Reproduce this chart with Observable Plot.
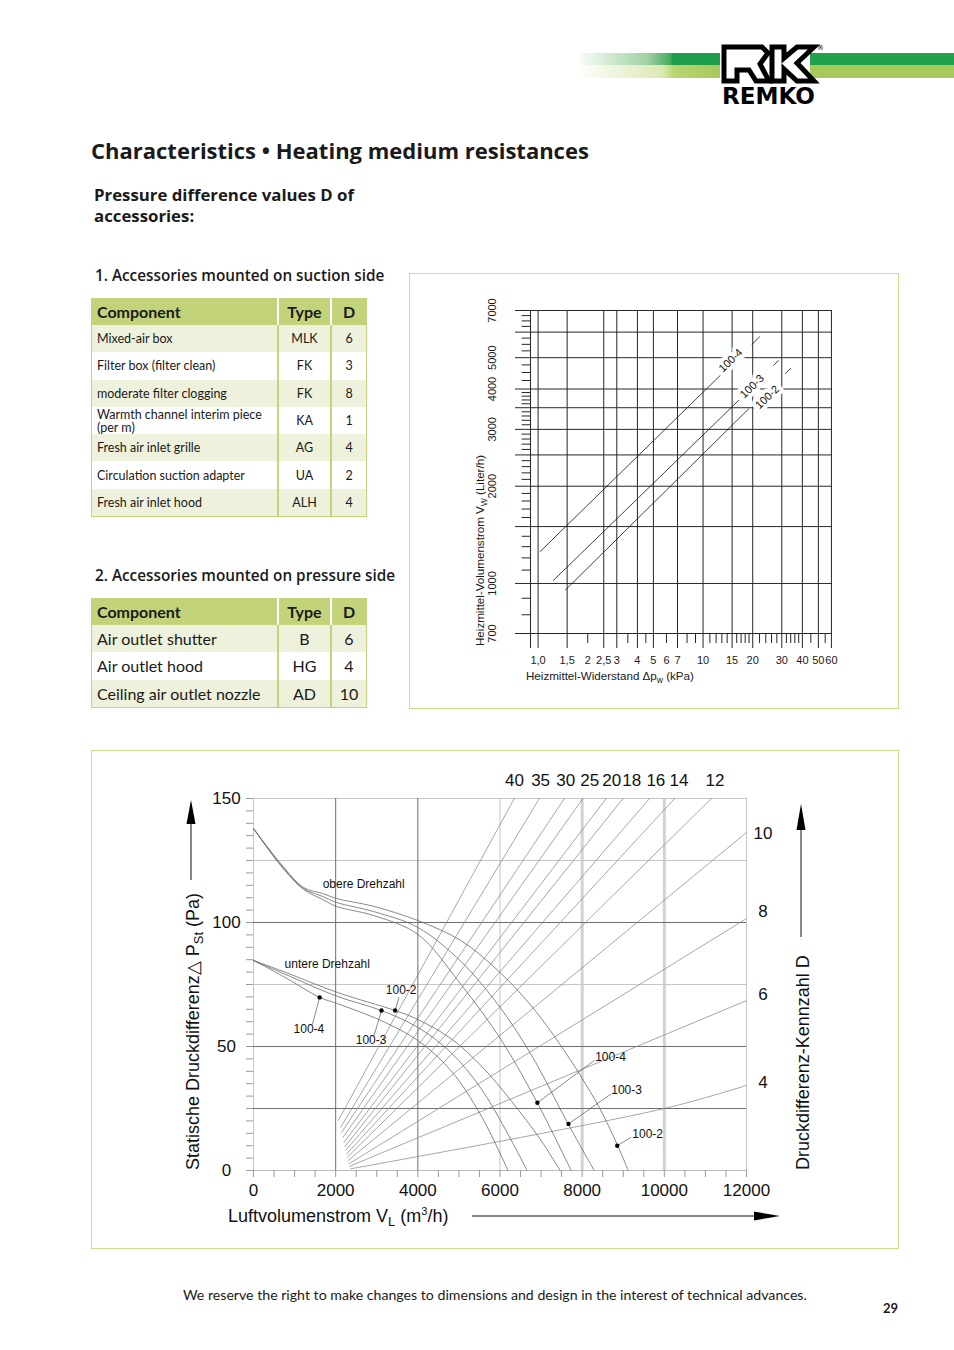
<!DOCTYPE html>
<html><head><meta charset="utf-8">
<script src="https://cdn.jsdelivr.net/npm/d3@7"></script>
<script src="https://cdn.jsdelivr.net/npm/@observablehq/plot@0.6"></script>
<style>
body{margin:0;background:#fff;}
#page{position:relative;width:954px;height:1350px;font-family:Lato,"Open Sans",sans-serif;color:#1a1a1a;overflow:hidden;background:#fff}
.a{position:absolute;white-space:nowrap;line-height:1}
.os{font-family:"Open Sans",Lato,sans-serif}
.box{position:absolute;border:1px solid #cfdc8e;box-sizing:border-box}
.tbl{position:absolute;box-sizing:border-box;border-left:1px solid #c3d37a;border-right:1px solid #c3d37a;border-bottom:1px solid #c3d37a}
.row{display:grid;box-sizing:border-box}
.row>div{display:flex;align-items:center;box-sizing:border-box}
.hd{background:#c3d37a;font-weight:700;font-size:16px;height:27px}
.hd>div+div{border-left:2px solid #fff;justify-content:center}
.bd>div+div{border-left:2px solid #c3d37a;justify-content:center}
.bd.alt{background:#eef1dc}
.row>div:first-child{padding-left:5px}
.chart{position:absolute}
</style></head>
<body><div id="page">
<svg class="a" style="left:0;top:0" width="954" height="120">
 <defs>
  <linearGradient id="gU" x1="0" x2="1"><stop offset="0" stop-color="#fff"/><stop offset="0.5" stop-color="#9fd1a2"/><stop offset="0.66" stop-color="#45ab5c"/><stop offset="0.67" stop-color="#1f9f4b"/><stop offset="1" stop-color="#1f9f4b"/></linearGradient>
  <linearGradient id="gL" x1="0" x2="1"><stop offset="0" stop-color="#fff"/><stop offset="0.6" stop-color="#dce9b5"/><stop offset="0.68" stop-color="#b9d572"/><stop offset="1" stop-color="#a8c95c"/></linearGradient>
 </defs>
 <rect x="575" y="53" width="145" height="12" fill="url(#gU)"/>
 <rect x="575" y="65" width="145" height="13" fill="url(#gL)"/>
 <rect x="810" y="53" width="144" height="12" fill="#22a04b"/>
 <rect x="810" y="65" width="144" height="13" fill="#a7c95b"/>
 <path d="M724,47 H762 L768,53 L760,64 L769,81 H756 L749,70 H737 V81 H724 Z" fill="#fff" stroke="#000" stroke-width="5" stroke-linejoin="miter"/>
 <path d="M772,47 H784 V58 L797,47 H814 L797,63 L814,81 H797 L784,69 V81 H772 Z" fill="#fff" stroke="#000" stroke-width="5" stroke-linejoin="miter"/>
 <text x="817" y="50" font-size="7" font-family="DejaVu Sans">®</text>
 <text x="722" y="104" font-size="23" font-weight="900" font-family="'DejaVu Sans'" textLength="93" lengthAdjust="spacingAndGlyphs">REMKO</text>
</svg>

<div class="a os" style="left:91px;top:139px;font-size:22px;font-weight:700">Characteristics • Heating medium resistances</div>
<div class="a os" style="left:94px;top:184px;font-size:16.8px;font-weight:700;line-height:21px">Pressure difference values D of<br>accessories:</div>
<div class="a os" style="left:95px;top:268px;font-size:15.3px;font-weight:600">1. Accessories mounted on suction side</div>
<div class="a os" style="left:95px;top:568px;font-size:15.3px;font-weight:600">2. Accessories mounted on pressure side</div>
<div id="t1" class="tbl" style="left:91px;top:298px;width:276px"></div>
<div id="t2" class="tbl" style="left:91px;top:598px;width:276px"></div>

<div class="box" style="left:409px;top:273px;width:490px;height:436px"></div>
<div class="box" style="left:91px;top:750px;width:808px;height:499px"></div>
<div id="c1" class="chart" style="left:409px;top:273px"></div>
<div id="c2" class="chart" style="left:91px;top:750px"></div>

<div class="a" style="left:183px;top:1288px;font-size:14.15px">We reserve the right to make changes to dimensions and design in the interest of technical advances.</div>
<div class="a" style="left:883px;top:1302px;font-size:13px;font-weight:700">29</div>
</div>
<script>
// ---------- tables ----------
const suctionComponents = ["Mixed-air box","Filter box (filter clean)","moderate filter clogging","Warmth channel interim piece\n(per m)","Fresh air inlet grille","Circulation suction adapter","Fresh air inlet hood"];
const suctionTypes = ["MLK","FK","FK","KA","AG","UA","ALH"];
const suctionD = [6,3,8,1,4,2,4];
const pressureComponents = ["Air outlet shutter","Air outlet hood","Ceiling air outlet nozzle"];
const pressureTypes = ["B","HG","AD"];
const pressureD = [6,4,10];
const tableHeader = ["Component","Type","D"];

function buildTable(id, comps, types, ds, fontSize){
  const el = document.getElementById(id);
  const cols = "185px 53px 36px";
  const hd = document.createElement("div"); hd.className="row hd"; hd.style.gridTemplateColumns=cols;
  tableHeader.forEach(h=>{const c=document.createElement("div");c.textContent=h;hd.appendChild(c);});
  el.appendChild(hd);
  comps.forEach((comp,i)=>{
    const r=document.createElement("div"); r.className="row bd"+(i%2===0?" alt":""); r.style.gridTemplateColumns=cols;
    r.style.height="27.3px"; r.style.fontSize=fontSize+"px";
    [comp,types[i],String(ds[i])].forEach((v,j)=>{const c=document.createElement("div");c.textContent=v;
      if(j===0){c.style.whiteSpace="pre-line";c.style.lineHeight="13px";}
      r.appendChild(c);});
    el.appendChild(r);
  });
}
buildTable("t1",suctionComponents,suctionTypes,suctionD,12.5);
buildTable("t2",pressureComponents,pressureTypes,pressureD,16);

// ---------- chart 1: water resistance (log-log) ----------
const dpGrid = [0.9,1,1.5,2.5,3,4,5,7,10,15,20,30,40,50,60];
const dpMinor = [2,3.5,4.5,6,8,9,11,12,13,14,16,17,18,19,22,24,26,28,32,34,36,38,45,55];
const dpLabelValues = [1,1.5,2,2.5,3,4,5,6,7,10,15,20,30,40,50,60];
const dpLabelTexts = ["1,0","1,5","2","2,5","3","4","5","6","7","10","15","20","30","40","50","60"];
const vwGrid = [700,1000,1500,2000,2500,3000,3500,4000,5000,6000,7000];
const vwMinor = [800,900,1100,1200,1300,1400,1600,1700,1800,1900,2100,2200,2300,2400,2600,2700,2800,2900,3100,3200,3300,3400,3600,3700,3800,3900,4250,4500,4750,5250,5500,5750,6250,6500,6750];
const vwLabelValues = [700,1000,2000,3000,4000,5000,7000];
const coilNames = ["100-4","100-3","100-2"];
const coilStartDp = [1.03,1.235,1.466];
const coilStartVw = [1256,1021,955];
const coilEndDp = [12.7,16.45,18.9];
const coilEndVw = [4404,3690,3472];
const coilDashDp = [[19.8,22.0],[26.8,28.6],[31.6,33.9]];
const coilDashVw = [[5500,5800],[4740,4890],[4470,4630]];
const coilLabelDp = [14.7,19.8,24.5];
const coilLabelVw = [4900,4077,3773];

const coilRows = coilNames.flatMap((n,i)=>[{name:n,dp:coilStartDp[i],vw:coilStartVw[i]},{name:n,dp:coilEndDp[i],vw:coilEndVw[i]}]);
const dashRows = coilNames.flatMap((n,i)=>coilDashDp[i].map((d,j)=>({name:n,dp:d,vw:coilDashVw[i][j]})));
const coilLabelRows = coilNames.map((n,i)=>({name:n,dp:coilLabelDp[i],vw:coilLabelVw[i]}));
const ink = "#262626";
const svg1 = Plot.plot({
  width:489,height:435,marginLeft:106,marginRight:66,marginTop:37,marginBottom:75,
  x:{type:"log",domain:[0.7296,60.9],axis:null},
  y:{type:"log",domain:[700,7000],axis:null},
  style:{fontFamily:"'Liberation Sans',Arial,sans-serif",fontSize:"11px",color:"#1a1a1a",background:"transparent",overflow:"visible"},
  marks:[
    Plot.ruleY(vwGrid,{stroke:ink,strokeWidth:1}),
    Plot.ruleX(dpGrid,{stroke:ink,strokeWidth:1}),
    Plot.axisX(dpGrid,{tickSize:15,tickFormat:()=>"",stroke:ink,label:null}),
    Plot.axisX(dpMinor,{tickSize:10,tickFormat:()=>"",stroke:ink,label:null}),
    Plot.ruleY(vwMinor,{x1:0.8,x2:0.9,stroke:ink,strokeWidth:1}),
    Plot.line(coilRows,{x:"dp",y:"vw",z:"name",stroke:"#111",strokeWidth:0.8}),
    Plot.line(dashRows,{x:"dp",y:"vw",z:"name",stroke:"#111",strokeWidth:0.8}),
    Plot.text(coilLabelRows,{x:"dp",y:"vw",text:"name",rotate:-44,fontSize:11,stroke:"#fff",strokeWidth:8,fill:"#111"}),
    Plot.text(dpLabelValues,{x:d=>d,text:(d,i)=>dpLabelTexts[i],frameAnchor:"bottom",dy:27,textAnchor:"middle",lineAnchor:"middle",fontSize:11}),
    Plot.text(vwLabelValues,{y:d=>d,text:d=>String(d),frameAnchor:"left",dx:-23,rotate:-90,textAnchor:"middle",lineAnchor:"middle",fontSize:11})
  ]
});
document.getElementById("c1").appendChild(svg1);
{
  const s=d3.select(svg1);
  const t=s.append("text").attr("transform","translate(75,373) rotate(-90)").attr("text-anchor","start").attr("font-size",11.6).attr("fill","#1a1a1a");
  t.append("tspan").text("Heizmittel-Volumenstrom V");
  t.append("tspan").attr("font-size",8.5).attr("dy",3).text("W");
  t.append("tspan").attr("dy",-3).text(" (Liter/h)");
  const u=s.append("text").attr("x",117).attr("y",407).attr("text-anchor","start").attr("font-size",11.6).attr("fill","#1a1a1a");
  u.append("tspan").text("Heizmittel-Widerstand Δp");
  u.append("tspan").attr("font-size",8.5).attr("dy",3).text("w");
  u.append("tspan").attr("dy",-3).text(" (kPa)");
}

// ---------- chart 2: fan curves / pressure difference ----------
const flowLabels = [0,2000,4000,6000,8000,10000,12000];
const pstLabels = [0,50,100,150];
const flowMinor = d3.range(0,12001,500);
const pstMinor = d3.range(0,151,5);
const gridFlowDark = [2000,4000], gridFlowLight = [6000,12000], gridFlowWide = [8000,10000];
const gridPstDark = [25,50,100], gridPstLight = [75,125,150];

const kennD = [40,35,30,25,20,18,16,14,12,10,8,6,4];
const kennStartV = [2066,2122,2146,2178,2202,2227,2244,2268,2285,2300,2324,2341,2366];
const kennStartP = [20.2,17.5,15.4,13.4,11.4,9.7,8.1,6.7,5.4,4.0,2.7,1.7,0.7];
const kennEndV = [6349,6958,7568,8017,8585,8993,9641,10251,11146,12000,12000,12000,12000];
const kennEndP = [150,150,150,150,150,150,150,150,150,136.3,101.6,68.5,34.3];
// read mid-points (only where clearly legible): D=4 passes 10000 m3/h at 25 Pa
const kennMid = {4:[10000,25]};
const kennTopLabelV = [6354,6988,7598,8183,8720,9207,9793,10354,11232];
const kennRightLabelP = [135.9,104.4,71,35.5];

const fanCurves = {
  "obere 100-2": {v:[0,659,1220,1683,2017,2927,4000,5049,5951,6756,7561,8390,8871,9122], p:[137.9,123.8,114.1,111.7,109.7,106.5,100.8,92.7,80.6,66.5,48.4,26.2,9.8,0]},
  "obere 100-3": {v:[0,659,1220,1683,2017,2927,4000,5049,5951,6756,7658,8293], p:[137.9,123.4,113.7,110.5,108.1,104.4,98.0,84.3,66.9,46.8,18.8,0]},
  "obere 100-4": {v:[0,659,1220,1683,2017,2927,4000,5049,6024,6902,7732], p:[137.9,123.0,113.3,109.3,106.5,102.8,95.2,75.0,52.8,27.5,0]},
  "untere 100-2": {v:[0,732,2042,3447,4000,4805,5537,6268,7000,7464], p:[84.7,80.2,71.8,64.5,60.9,53.2,42.3,28.2,12.1,0]},
  "untere 100-3": {v:[0,732,2042,3115,4000,4805,5537,6146,6659], p:[84.7,79.4,70.2,64.5,57.7,47.6,33.1,16.1,0]},
  "untere 100-4": {v:[0,732,1610,2042,3098,4000,4805,5537,6195], p:[84.7,78.2,69.8,67.3,60.5,52.4,40.3,22.2,0]}
};
const pointNames = ["100-2","100-4","100-3","100-4","100-3","100-2"];
const pointV = [3447,1610,3115,6910,7666,8854];
const pointP = [64.5,69.8,64.5,27.3,18.8,10.0];
const pointLabelV = [3220,976,2488,8317,8707,9220];
const pointLabelP = [72.6,56.9,52.4,45.6,32.3,14.5];
const leaderV = [3544,1432,2934,8300,8707,9195];
const leaderP = [69.9,58.8,54.4,44.4,30.9,13.4];
const curveLabels = ["obere Drehzahl","untere Drehzahl"];
const curveLabelV = [1683,756];
const curveLabelP = [115.3,83.2];

const kennRows = kennD.flatMap((d,i)=>{
  const r=[{d,v:kennStartV[i],p:kennStartP[i]}];
  if(kennMid[d]) r.push({d,v:kennMid[d][0],p:kennMid[d][1]});
  r.push({d,v:kennEndV[i],p:kennEndP[i]});
  return r;
});
const fanRows = Object.entries(fanCurves).flatMap(([name,c])=>c.v.map((v,i)=>({name,v,p:c.p[i]})));
const ptRows = pointNames.map((n,i)=>({n,v:pointV[i],p:pointP[i],lv:pointLabelV[i],lp:pointLabelP[i],kv:leaderV[i],kp:leaderP[i]}));
const gridGrey="#6f6f6f", lightGrey="#c6c6c6";
const svg2 = Plot.plot({
  width:807,height:498,marginLeft:162,marginRight:152,marginTop:48,marginBottom:78,
  x:{domain:[0,12000],axis:null}, y:{domain:[0,150],axis:null},
  style:{fontFamily:"'Liberation Sans',Arial,sans-serif",fontSize:"17px",color:"#111",background:"transparent",overflow:"visible"},
  marks:[
    Plot.ruleX(gridFlowWide,{stroke:"#d2d2d2",strokeWidth:3}),
    Plot.ruleX(gridFlowLight,{stroke:lightGrey,strokeWidth:1}),
    Plot.ruleY(gridPstLight,{stroke:lightGrey,strokeWidth:1}),
    Plot.ruleX([0],{stroke:lightGrey}),
    Plot.ruleY([0],{stroke:"#bbb"}),
    Plot.ruleX(gridFlowDark,{stroke:gridGrey,strokeWidth:1}),
    Plot.ruleY(gridPstDark,{stroke:gridGrey,strokeWidth:1}),
    Plot.axisY(pstMinor,{tickSize:7,tickFormat:()=>"",stroke:"#999",label:null}),
    Plot.axisX(flowMinor,{tickSize:7,tickFormat:()=>"",stroke:"#999",label:null}),
    Plot.line(kennRows,{x:"v",y:"p",z:"d",stroke:"#8a8a8a",strokeWidth:0.75,curve:"catmull-rom"}),
    Plot.line(fanRows,{x:"v",y:"p",z:"name",stroke:"#6a6a6a",strokeWidth:0.8,curve:"catmull-rom"}),
    Plot.link(ptRows,{x1:"kv",y1:"kp",x2:"v",y2:"p",stroke:"#555",strokeWidth:0.7}),
    Plot.dot(ptRows,{x:"v",y:"p",r:2.2,fill:"#000"}),
    Plot.text(ptRows,{x:"lv",y:"lp",text:"n",textAnchor:"start",fontSize:12}),
    Plot.text(curveLabels,{x:(d,i)=>curveLabelV[i],y:(d,i)=>curveLabelP[i],text:d=>d,textAnchor:"start",fontSize:12}),
    Plot.text(kennTopLabelV,{x:d=>d,text:(d,i)=>String(kennD[i]),frameAnchor:"top",dy:-18,textAnchor:"middle",lineAnchor:"middle",fontSize:17}),
    Plot.text(kennRightLabelP,{y:d=>d,text:(d,i)=>String(kennD[9+i]),frameAnchor:"right",dx:16.5,textAnchor:"middle",lineAnchor:"middle",fontSize:17}),
    Plot.text(flowLabels,{x:d=>d,text:d=>String(d),frameAnchor:"bottom",dy:20.5,textAnchor:"middle",lineAnchor:"middle",fontSize:17}),
    Plot.text(pstLabels,{y:d=>d,text:d=>String(d),frameAnchor:"left",dx:-27,textAnchor:"middle",lineAnchor:"middle",fontSize:17})
  ]
});
document.getElementById("c2").appendChild(svg2);
{
  const s=d3.select(svg2);
  const t=s.append("text").attr("transform","translate(108,420) rotate(-90)").attr("text-anchor","start").attr("font-size",18).attr("fill","#111");
  t.append("tspan").text("Statische Druckdifferenz△ P");
  t.append("tspan").attr("font-size",13).attr("dy",4).text("St");
  t.append("tspan").attr("dy",-4).text(" (Pa)");
  s.append("line").attr("x1",100).attr("x2",100).attr("y1",130).attr("y2",70).attr("stroke","#111");
  s.append("path").attr("d","M100,50 L104.5,74 L95.5,74 Z").attr("fill","#000");
  const u=s.append("text").attr("x",137).attr("y",472).attr("text-anchor","start").attr("font-size",18).attr("fill","#111");
  u.append("tspan").text("Luftvolumenstrom V");
  u.append("tspan").attr("font-size",13).attr("dy",4).text("L");
  u.append("tspan").attr("dy",-4).text(" (m");
  u.append("tspan").attr("font-size",11).attr("dy",-7).text("3");
  u.append("tspan").attr("dy",7).text("/h)");
  s.append("line").attr("x1",381).attr("x2",666).attr("y1",466).attr("y2",466).attr("stroke","#111");
  s.append("path").attr("d","M689,466 L663,461.5 L663,470.5 Z").attr("fill","#000");
  s.append("text").attr("transform","translate(718,420) rotate(-90)").attr("text-anchor","start").attr("font-size",18).attr("fill","#111").text("Druckdifferenz-Kennzahl D");
  s.append("line").attr("x1",710).attr("x2",710).attr("y1",187).attr("y2",78).attr("stroke","#111");
  s.append("path").attr("d","M710,54 L714.5,80 L705.5,80 Z").attr("fill","#000");
}
</script>
</body></html>
